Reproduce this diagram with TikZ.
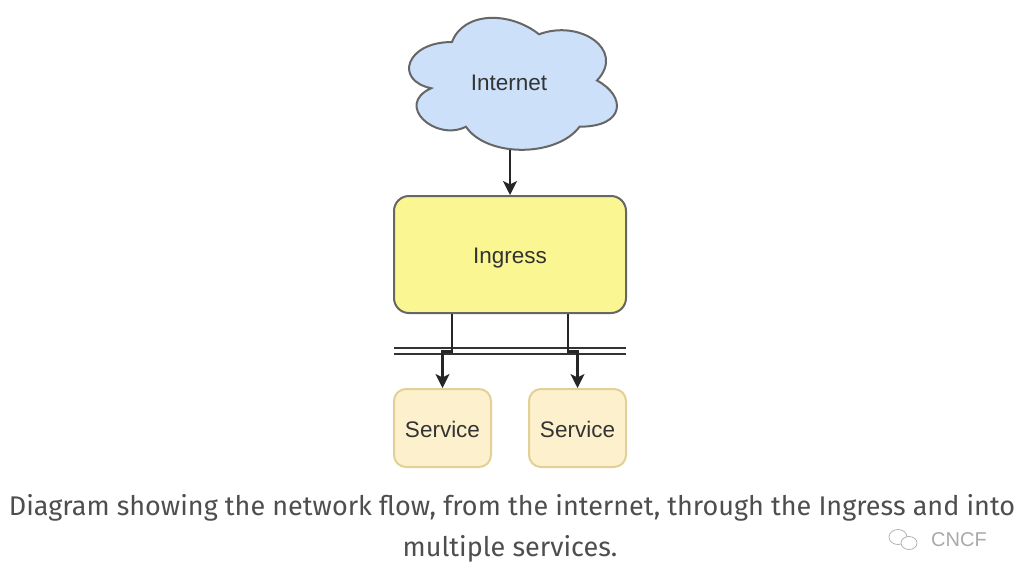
\documentclass[tikz,border=0pt]{standalone}
\usepackage{fontspec}
\setmainfont{Liberation Sans}
\newfontfamily\capfont{Fira Sans}
\usetikzlibrary{arrows.meta}
\definecolor{cloudfill}{RGB}{204,224,250}
\definecolor{shapeline}{RGB}{102,102,102}
\definecolor{ingfill}{RGB}{250,246,145}
\definecolor{svcfill}{RGB}{252,241,204}
\definecolor{svcline}{RGB}{226,208,150}
\definecolor{txt}{RGB}{51,51,51}
\definecolor{captxt}{RGB}{78,78,78}
\definecolor{wm}{RGB}{170,170,170}
\tikzset{
  lbl/.style={font=\fontsize{22.5}{27}\selectfont, text=txt, inner sep=0pt, text height=18.8pt, text depth=0pt},
  ingbox/.style={lbl, draw=shapeline, fill=ingfill, rounded corners=15pt, line width=2pt, minimum width=232pt, minimum height=117pt},
  svcbox/.style={lbl, draw=svcline, fill=svcfill, rounded corners=12pt, line width=2pt, minimum width=97pt, minimum height=78pt},
  arr/.style={line width=2.2pt, black!85, -{Stealth[length=14pt,width=14pt,inset=3.5pt]}},
  busline/.style={line width=2.2pt, black!80},
  captext/.style={font=\capfont\fontsize{27}{32}\selectfont, text=captxt, inner sep=0pt},
}
\begin{document}
\begin{tikzpicture}[x=1pt,y=-1pt]
\useasboundingbox[fill=white] (0,0) rectangle (1024,582);
% cloud
\begin{scope}[shift={(394,3.5)},x=232pt,y=-154pt]
\draw[fill=cloudfill, draw=shapeline, line width=2pt]
  (0.25,0.25) .. controls (0.05,0.25) and (0,0.5) .. (0.16,0.55)
  .. controls (0,0.66) and (0.18,0.9) .. (0.31,0.8)
  .. controls (0.4,1) and (0.7,1) .. (0.8,0.8)
  .. controls (1,0.8) and (1,0.6) .. (0.875,0.5)
  .. controls (1,0.3) and (0.8,0.1) .. (0.625,0.2)
  .. controls (0.5,0.05) and (0.3,0.05) .. (0.25,0.25) -- cycle;
\end{scope}
\node[lbl] (cloud) at (509,81.4) {Internet};
\coordinate (cloudbot) at (510,149.5);
% ingress
\node[ingbox] (ingress) at (510,254.5) {Ingress};
% services
\node[svcbox] (svc1) at (442.5,428) {Service};
\node[svcbox] (svc2) at (577.5,428) {Service};
% bus lines
\coordinate (busL1) at (394,347.7);
\coordinate (busR1) at (626,347.7);
\coordinate (busL2) at (394,354.3);
\coordinate (busR2) at (626,354.3);
\draw[busline] (busL1) -- (busR1);
\draw[busline] (busL2) -- (busR2);
% connectors
\draw[arr] (cloudbot) -- (ingress.north);
\draw[arr] ([xshift=-58pt]ingress.south) -- ++(0,37.5) -| (svc1.north);
\draw[arr] ([xshift=58pt]ingress.south) -- ++(0,37.5) -| (svc2.north);
% caption
\node[captext] (cap1) at (512,507.5) {Diagram showing the network flow, from the internet, through the Ingress and into};
\node[captext] (cap2) at (510,548.5) {multiple services.};
% watermark
\node[font=\fontsize{20}{24}\selectfont, text=wm, inner sep=0pt] (wmtext) at (959,540) {CNCF};
\draw[wm, line width=0.7pt] (898,537) ellipse (9pt and 7.5pt);
\draw[wm, line width=0.7pt, fill=white] (909,543) ellipse (8pt and 6.5pt);
\end{tikzpicture}
\end{document}
